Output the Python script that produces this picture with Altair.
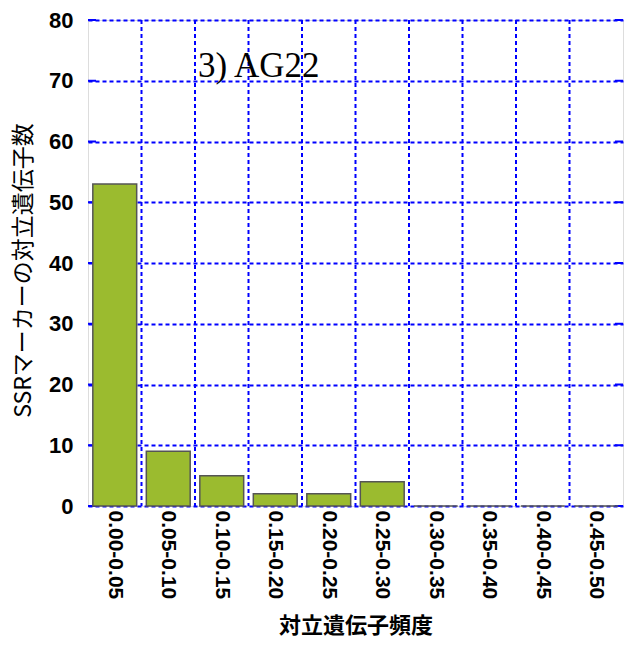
import altair as alt
import pandas as pd

categories = ["0.00-0.05", "0.05-0.10", "0.10-0.15", "0.15-0.20", "0.20-0.25",
              "0.25-0.30", "0.30-0.35", "0.35-0.40", "0.40-0.45", "0.45-0.50"]
counts = [53, 9, 5, 2, 2, 4, 0, 0, 0, 0]
y_ticks = [0, 10, 20, 30, 40, 50, 60, 70, 80]
annotation = "3) AG22"
x_title = "対立遺伝子頻度"
y_title = "SSRマーカーの対立遺伝子数"

df = pd.DataFrame({"cat": categories, "n": counts})
grid_df = pd.DataFrame({"cat": categories[1:]})
ann_df = pd.DataFrame({"cat": [categories[2]], "y": [70.6], "t": [annotation]})
ltick_df = pd.DataFrame({"cat": [categories[0]] * len(y_ticks), "y": y_ticks})
rtick_df = pd.DataFrame({"cat": [categories[-1]] * len(y_ticks), "y": y_ticks})

BLUE = "#0000FF"

xscale = alt.Scale(domain=categories, paddingInner=0, paddingOuter=0)
yscale = alt.Scale(domain=[0, 80], nice=False)

xaxis = alt.Axis(
    title=x_title, labelAngle=90, labelAlign="left", labelBaseline="middle",
    labelFont="Liberation Sans", labelFontWeight="bold", labelFontSize=21,
    labelColor="black", labelPadding=4, ticks=False, grid=False, domain=False,
    titleFont="Noto Sans CJK JP", titleFontWeight="bold", titleFontSize=22,
    titleColor="black", titleY=119, titleBaseline="middle",
)
yaxis = alt.Axis(
    title=y_title, values=y_ticks, labelFont="Liberation Sans", labelFontWeight="bold",
    labelFontSize=22, labelColor="black", labelPadding=15, ticks=False, domain=False,
    grid=True, gridColor=BLUE, gridDash=[4, 3], gridWidth=2, gridOpacity=1,
    titleFont="Noto Sans CJK JP", titleFontWeight="normal", titleFontSize=23,
    titleColor="black", titleX=-65, titleY=250, titleAlign="center",
    titleBaseline="middle",
)

grid = alt.Chart(grid_df).mark_rule(color=BLUE, strokeDash=[4, 3], strokeWidth=2).encode(
    x=alt.X("cat:N", bandPosition=0, scale=xscale, axis=xaxis, sort=categories),
)

lticks = alt.Chart(ltick_df).mark_rule(color=BLUE, strokeWidth=2).encode(
    x=alt.X("cat:N", bandPosition=0, scale=xscale, sort=categories),
    x2=alt.X2("cat:N", bandPosition=0.15),
    y=alt.Y("y:Q", scale=yscale),
)
rticks = alt.Chart(rtick_df).mark_rule(color=BLUE, strokeWidth=2).encode(
    x=alt.X("cat:N", bandPosition=0.85, scale=xscale, sort=categories),
    x2=alt.X2("cat:N", bandPosition=1),
    y=alt.Y("y:Q", scale=yscale),
)

bars = alt.Chart(df).mark_bar(
    width=alt.RelativeBandSize(0.82), fill="#9BBB2F", stroke="#555555", strokeWidth=1.5
).encode(
    x=alt.X("cat:N", scale=xscale, sort=categories),
    y=alt.Y("n:Q", scale=yscale, axis=yaxis),
)

text = alt.Chart(ann_df).mark_text(
    font="Liberation Serif", fontSize=35, align="left", baseline="alphabetic",
    color="black", dx=3
).encode(
    x=alt.X("cat:N", bandPosition=0, scale=xscale, sort=categories),
    y=alt.Y("y:Q", scale=yscale),
    text="t:N",
)

chart = alt.layer(grid, lticks, rticks, bars, text).properties(
    width=535, height=486,
    autosize=alt.AutoSizeParams(type="none"),
    padding={"left": 80, "top": 12, "right": 9, "bottom": 132},
).configure_view(stroke=BLUE, strokeWidth=2).configure(background="white")

chart.save("out.html", embed_options={"renderer": "svg", "actions": False})
